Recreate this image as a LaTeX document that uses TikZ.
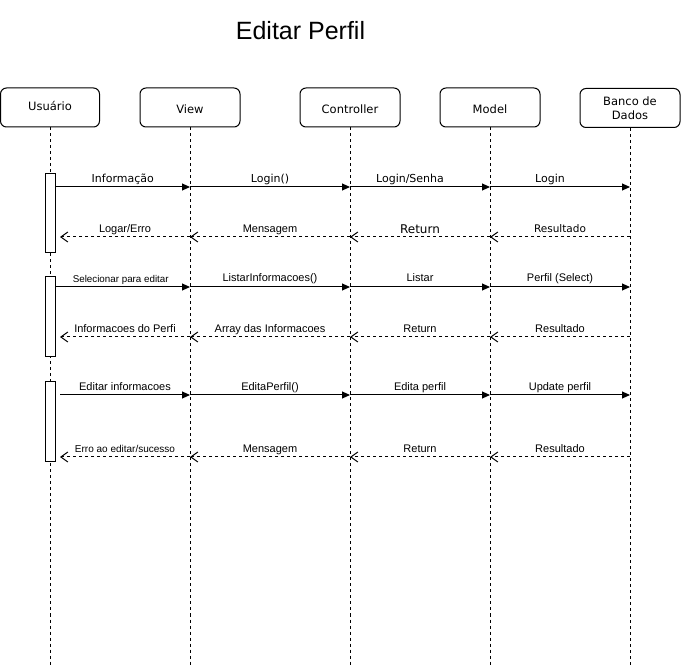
\documentclass[tikz,border=0pt]{standalone}
\usepackage{fontspec}
\setmainfont{Liberation Sans}
\newfontfamily\dv{DejaVu Sans}
\usetikzlibrary{arrows.meta}
\begin{document}
\begin{tikzpicture}[x=1pt,y=-1pt,
  actor/.style={draw, line width=1pt, rounded corners=6pt, minimum width=100pt,
    minimum height=39pt, inner sep=0pt, font=\dv\fontsize{11.5}{14}\selectfont},
  tline/.style={text height=8pt, text depth=0pt},
  life/.style={line width=1pt, dash pattern=on 3pt off 3pt},
  actbar/.style={draw, fill=white, line width=1pt, minimum width=10pt, inner sep=0pt},
  msg/.style={line width=1pt, -{Triangle[length=8pt,width=7pt]}},
  ret/.style={line width=1pt, dash pattern=on 3pt off 3pt, -{Straight Barb[length=7pt,width=10pt]}},
  lbl/.style={anchor=base, yshift=4pt, inner sep=0pt, font=\fontsize{11}{13}\selectfont},
  dlbl/.style={lbl, font=\dv\fontsize{11}{13}\selectfont},
]
\useasboundingbox[fill=white] (0,0) rectangle (681,668);

% title
\node[anchor=base, inner sep=0pt, font=\fontsize{25}{29}\selectfont] (title) at (300.5,39.5) {Editar Perfil};

% participants
\node[actor, tline, minimum width=99pt] (usr) at (50,107.5) {\raisebox{1pt}{Usuário}};
\node[actor, tline] (view) at (190,107.5) {\raisebox{-2pt}{View}};
\node[actor, tline] (ctrl) at (350,107.5) {\raisebox{-2pt}{Controller}};
\node[actor, tline] (model) at (490,107.5) {\raisebox{-2pt}{Model}};
\node[actor, align=center] (db) at (630,108) {Banco de\\Dados};

% lifeline ends
\coordinate (usrEnd) at (50,665);
\coordinate (viewEnd) at (190,665);
\coordinate (ctrlEnd) at (350,665);
\coordinate (modelEnd) at (490,665);
\coordinate (dbEnd) at (630,665);

\draw[life] (usr.south) -- (usrEnd);
\draw[life] (view.south) -- (viewEnd);
\draw[life] (ctrl.south) -- (ctrlEnd);
\draw[life] (model.south) -- (modelEnd);
\draw[life] (db.south) -- (dbEnd);

% row coordinates on each lifeline
\foreach \n/\x in {usr/50,view/190,ctrl/350,model/490,db/630}{
  \foreach \r/\y in {1/187,2/237,3/287,4/337,5/395,6/457}{
    \coordinate (\n-\r) at (\x,\y);
  }
}
\coordinate (ua2) at (60,237);
\coordinate (ua4) at (60,337);
\coordinate (ua5) at (60,395);
\coordinate (ua6) at (60,457);

% activation bars
\node[actbar, minimum height=79pt] (act1) at (50,213.5) {};
\node[actbar, minimum height=80pt] (act2) at (50,317) {};
\node[actbar, minimum height=80pt] (act3) at (50,422) {};

% group 1
\draw[msg] (act1.east |- usr-1) -- node[dlbl]{Informação} (view-1);
\draw[msg] (view-1) -- node[dlbl]{Login()} (ctrl-1);
\draw[msg] (ctrl-1) -- node[dlbl, xshift=-10pt]{Login/Senha} (model-1);
\draw[msg] (model-1) -- node[dlbl, xshift=-10pt]{Login} (db-1);
\draw[ret] (db-2) -- node[dlbl, font=\dv\fontsize{10.5}{12}\selectfont]{Resultado} (model-2);
\draw[ret] (model-2) -- node[dlbl, font=\dv\fontsize{12}{14}\selectfont, yshift=-1pt]{Return} (ctrl-2);
\draw[ret] (ctrl-2) -- node[lbl]{Mensagem} (view-2);
\draw[ret] (view-2) -- node[lbl]{Logar/Erro} (ua2);

% group 2
\draw[msg] (act2.east |- usr-3) -- node[lbl, font=\fontsize{9.8}{12}\selectfont, xshift=-2pt]{Selecionar para editar} (view-3);
\draw[msg] (view-3) -- node[lbl, yshift=1pt]{ListarInformacoes()} (ctrl-3);
\draw[msg] (ctrl-3) -- node[lbl, yshift=1pt]{Listar} (model-3);
\draw[msg] (model-3) -- node[lbl, yshift=1pt]{Perfil (Select)} (db-3);
\draw[ret] (db-4) -- node[lbl]{Resultado} (model-4);
\draw[ret] (model-4) -- node[lbl]{Return} (ctrl-4);
\draw[ret] (ctrl-4) -- node[lbl]{Array das Informacoes} (view-4);
\draw[ret] (view-4) -- node[lbl]{Informacoes do Perfi} (ua4);

% group 3
\draw[msg] (ua5) -- node[lbl]{Editar informacoes} (view-5);
\draw[msg] (view-5) -- node[lbl]{EditaPerfil()} (ctrl-5);
\draw[msg] (ctrl-5) -- node[lbl]{Edita perfil} (model-5);
\draw[msg] (model-5) -- node[lbl]{Update perfil} (db-5);
\draw[ret] (db-6) -- node[lbl]{Resultado} (model-6);
\draw[ret] (model-6) -- node[lbl]{Return} (ctrl-6);
\draw[ret] (ctrl-6) -- node[lbl]{Mensagem} (view-6);
\draw[ret] (view-6) -- node[lbl, font=\fontsize{10}{12}\selectfont]{Erro ao editar/sucesso} (ua6);
\end{tikzpicture}
\end{document}
